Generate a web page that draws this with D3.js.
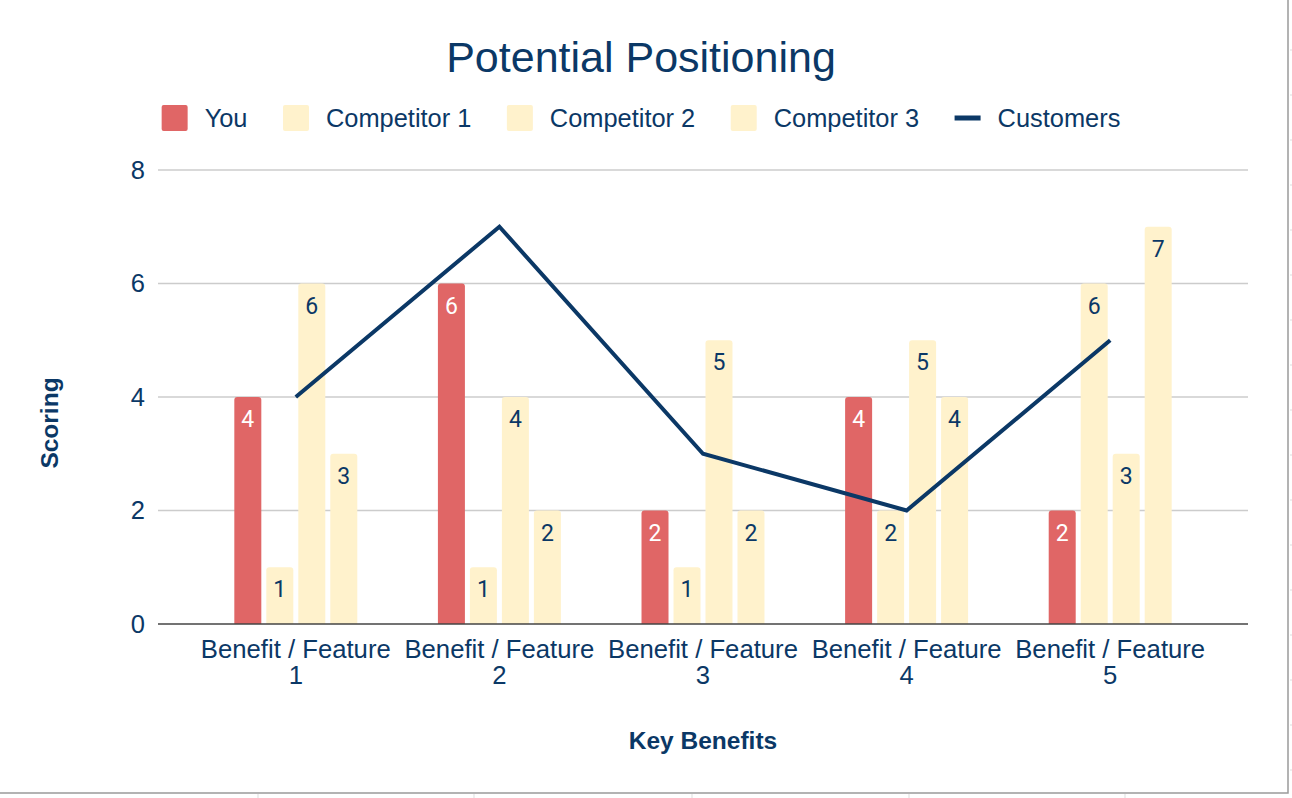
<!DOCTYPE html>
<html>
<head>
<meta charset="utf-8">
<script src="https://cdn.jsdelivr.net/npm/d3@7"></script>
<style>
  body { margin: 0; background: #fff; }
  svg { display: block; font-family: "Liberation Sans", Arial, sans-serif; }
</style>
</head>
<body>
<svg id="drawing_region"></svg>
<script>
// chart data
const categories = ["Benefit / Feature 1", "Benefit / Feature 2", "Benefit / Feature 3", "Benefit / Feature 4", "Benefit / Feature 5"];
const barSeries = ["You", "Competitor 1", "Competitor 2", "Competitor 3"];
const you = [4, 6, 2, 4, 2];
const competitor1 = [1, 1, 1, 2, 6];
const competitor2 = [6, 4, 5, 5, 3];
const competitor3 = [3, 2, 2, 4, 7];
const customers = [4, 7, 3, 2, 5];
const yTicks = [0, 2, 4, 6, 8];

const navy = "#0b3866";
const colors = { "You": "#e06666", "Competitor 1": "#fff2cc", "Competitor 2": "#fff2cc", "Competitor 3": "#fff2cc" };
const labelColors = { "You": "#ffffff", "Competitor 1": navy, "Competitor 2": navy, "Competitor 3": navy };

const width = 1292, height = 798;
const plot = { left: 158, right: 1248, top: 170, bottom: 624, bandLeft: 194, bandRight: 1212 };

const svg = d3.select("#drawing_region")
    .attr("width", width)
    .attr("height", height);

// spreadsheet frame
svg.append("rect")
    .attr("x", -2).attr("y", -2)
    .attr("width", 1290).attr("height", 795)
    .attr("fill", "#fff")
    .attr("stroke", "#9a9a9a")
    .attr("stroke-width", 1.5);

const cellGrid = svg.append("g").attr("stroke", "#dddddd").attr("stroke-width", 1);
[258, 474, 692, 909, 1125].forEach(x => {
    cellGrid.append("line").attr("x1", x).attr("x2", x).attr("y1", 794).attr("y2", height);
});
d3.range(50, height, 45).forEach(y => {
    cellGrid.append("line").attr("x1", 1290).attr("x2", width).attr("y1", y).attr("y2", y);
});

const rows = categories.map((c, i) => ({
    category: c,
    values: [you[i], competitor1[i], competitor2[i], competitor3[i]],
    customers: customers[i]
}));

const x0 = d3.scaleBand()
    .domain(categories)
    .range([plot.bandLeft, plot.bandRight])
    .paddingInner(0.396)
    .paddingOuter(0.198);

const x1 = d3.scaleBand()
    .domain(barSeries)
    .range([0, x0.bandwidth()])
    .paddingInner(0.156);

const y = d3.scaleLinear()
    .domain([0, 8])
    .range([plot.bottom, plot.top]);

// gridlines
svg.append("g")
    .selectAll("line")
    .data(yTicks.filter(d => d > 0))
    .join("line")
    .attr("x1", plot.left).attr("x2", plot.right)
    .attr("y1", d => y(d)).attr("y2", d => y(d))
    .attr("stroke", "#cccccc")
    .attr("stroke-width", 1.5);

// y axis labels
const yAxis = svg.append("g")
    .attr("transform", `translate(${plot.left},0)`)
    .call(d3.axisLeft(y).tickValues(yTicks).tickSize(0).tickPadding(13));
yAxis.select(".domain").remove();
yAxis.selectAll("text")
    .attr("font-size", "25.5px")
    .attr("font-family", "Liberation Sans, Arial, sans-serif")
    .attr("fill", navy);

// bars
const groups = svg.append("g")
    .selectAll("g")
    .data(rows)
    .join("g")
    .attr("transform", d => `translate(${x0(d.category)},0)`);

const barData = d => d.values.map((v, j) => ({ series: barSeries[j], value: v }));

groups.selectAll("path")
    .data(barData)
    .join("path")
    .attr("d", d => {
        const bx = x1(d.series), bw = x1.bandwidth();
        const top = y(d.value), bottom = y(0), r = 3;
        return `M${bx},${bottom}V${top + r}Q${bx},${top} ${bx + r},${top}H${bx + bw - r}Q${bx + bw},${top} ${bx + bw},${top + r}V${bottom}Z`;
    })
    .attr("fill", d => colors[d.series]);

groups.selectAll("text")
    .data(barData)
    .join("text")
    .attr("x", d => x1(d.series) + x1.bandwidth() / 2)
    .attr("y", d => y(d.value) + 30)
    .attr("text-anchor", "middle")
    .attr("font-size", "23px")
    .attr("font-family", "Roboto, Arial, sans-serif")
    .attr("fill", d => labelColors[d.series])
    .text(d => d.value);

// baseline
svg.append("line")
    .attr("x1", plot.left).attr("x2", plot.right)
    .attr("y1", y(0)).attr("y2", y(0))
    .attr("stroke", "#444444")
    .attr("stroke-width", 1.5);

// customers line
const line = d3.line()
    .x(d => x0(d.category) + x0.bandwidth() / 2)
    .y(d => y(d.customers));

svg.append("path")
    .datum(rows)
    .attr("d", line)
    .attr("fill", "none")
    .attr("stroke", navy)
    .attr("stroke-width", 4)
    .attr("stroke-linejoin", "miter");

// category labels
svg.append("g")
    .selectAll("text")
    .data(categories)
    .join("text")
    .attr("x", d => x0(d) + x0.bandwidth() / 2)
    .attr("y", 658)
    .attr("text-anchor", "middle")
    .attr("font-size", "25.7px")
    .attr("fill", navy)
    .each(function(d) {
        const parts = d.match(/^(.*)\s(\S+)$/);
        const t = d3.select(this);
        t.append("tspan").attr("x", x0(d) + x0.bandwidth() / 2).text(parts[1]);
        t.append("tspan").attr("x", x0(d) + x0.bandwidth() / 2).attr("dy", 25.5).text(parts[2]);
    });

// title
svg.append("text")
    .attr("x", 641)
    .attr("y", 72)
    .attr("text-anchor", "middle")
    .attr("font-size", "43px")
    .attr("fill", navy)
    .text("Potential Positioning");

// axis titles
svg.append("text")
    .attr("x", (plot.left + plot.right) / 2)
    .attr("y", 749)
    .attr("text-anchor", "middle")
    .attr("font-size", "24.5px")
    .attr("font-weight", 700)
    .attr("fill", navy)
    .text("Key Benefits");

svg.append("text")
    .attr("transform", "translate(58,423) rotate(-90)")
    .attr("text-anchor", "middle")
    .attr("font-size", "24.5px")
    .attr("font-weight", 700)
    .attr("fill", navy)
    .text("Scoring");

// legend
const legendItems = barSeries.map(s => ({ name: s, type: "box", color: colors[s] }))
    .concat([{ name: "Customers", type: "line", color: navy }]);

const legend = svg.append("g");
let cursor = 0;
const swatch = 26, swatchGap = 17, itemGap = 35.5;
legendItems.forEach((item, i) => {
    const g = legend.append("g").attr("transform", `translate(${cursor},0)`);
    if (item.type === "box") {
        g.append("rect")
            .attr("x", 0).attr("y", -13)
            .attr("width", swatch).attr("height", swatch)
            .attr("rx", 2)
            .attr("fill", item.color);
    } else {
        g.append("rect")
            .attr("x", 0).attr("y", -2.5)
            .attr("width", swatch).attr("height", 5)
            .attr("fill", item.color);
    }
    const t = g.append("text")
        .attr("x", swatch + swatchGap)
        .attr("y", 9)
        .attr("font-size", "25.4px")
        .attr("fill", navy)
        .text(item.name);
    cursor += swatch + swatchGap + t.node().getComputedTextLength() + (i < legendItems.length - 1 ? itemGap : 0);
});
legend.attr("transform", `translate(${641 - cursor / 2},118)`);
</script>
</body>
</html>
